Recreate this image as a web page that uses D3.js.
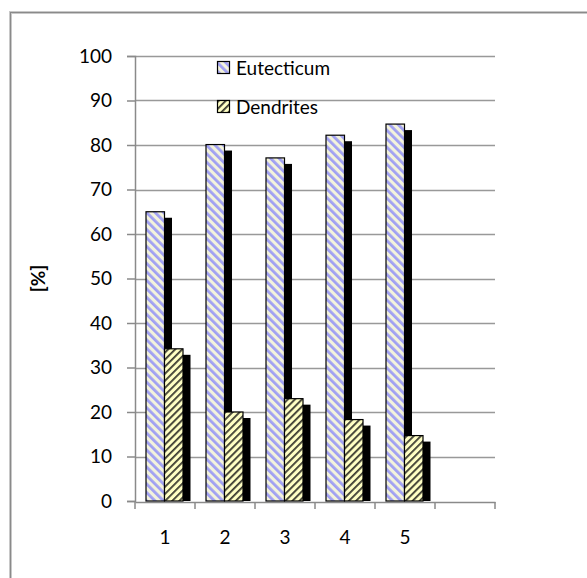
<!DOCTYPE html>
<html>
<head>
<meta charset="utf-8">
<script src="https://cdn.jsdelivr.net/npm/d3@7"></script>
<style>
  html, body { margin: 0; padding: 0; background: #fff; }
  svg text { font-family: Lato, "Liberation Sans", Arial, sans-serif; }
</style>
</head>
<body>
<svg id="chart" width="587" height="578"></svg>
<script>
// Category labels (the axis has one extra, empty slot on the right)
const categories = ["1", "2", "3", "4", "5"];
const slotCount = 6;
const seriesNames = ["Eutecticum", "Dendrites"];
const eutecticum = [65, 80.1, 77.1, 82.2, 84.7];
const dendrites = [34.2, 20, 23, 18.3, 14.7];
const yTicks = [0, 10, 20, 30, 40, 50, 60, 70, 80, 90, 100];

const svg = d3.select("#chart");
const fontFamily = "Lato, 'Liberation Sans', Arial, sans-serif";

// outer frame
svg.append("rect")
  .attr("x", 10.5).attr("y", 12.5)
  .attr("width", 600).attr("height", 600)
  .attr("fill", "none").attr("stroke", "#c8c8c8").attr("stroke-width", 3);
svg.append("rect")
  .attr("x", 10.5).attr("y", 12.5)
  .attr("width", 600).attr("height", 600)
  .attr("fill", "none").attr("stroke", "#8a8a8a").attr("stroke-width", 1);

// hatch fills
const defs = svg.append("defs");
const pe = defs.append("pattern").attr("id", "hatchEut")
  .attr("patternUnits", "userSpaceOnUse").attr("width", 6).attr("height", 6)
  .attr("patternTransform", "rotate(-45)");
pe.append("rect").attr("width", 6).attr("height", 6).attr("fill", "#f3f3dc");
pe.append("rect").attr("x", 0).attr("width", 2.8).attr("height", 6).attr("fill", "#a0a0f2");

const pd = defs.append("pattern").attr("id", "hatchDen")
  .attr("patternUnits", "userSpaceOnUse").attr("width", 5).attr("height", 5)
  .attr("patternTransform", "rotate(45)");
pd.append("rect").attr("width", 5).attr("height", 5).attr("fill", "#ffffc4");
pd.append("rect").attr("x", 0).attr("width", 1.8).attr("height", 5).attr("fill", "#3a3a30");

const fills = ["url(#hatchEut)", "url(#hatchDen)"];

const plotLeft = 135, plotRight = 495, plotTop = 56, plotBottom = 501;

const x = d3.scaleBand().domain(d3.range(slotCount)).range([plotLeft, plotRight]).padding(0);
const y = d3.scaleLinear().domain([0, 100]).range([plotBottom, plotTop]);

// gridlines
svg.append("g").selectAll("line")
  .data(yTicks.filter(t => t > 0))
  .join("line")
  .attr("x1", plotLeft).attr("x2", plotRight)
  .attr("y1", d => Math.round(y(d)) + 0.5).attr("y2", d => Math.round(y(d)) + 0.5)
  .attr("stroke", "#999").attr("stroke-width", 1.5);

// y axis
const yAxis = svg.append("g")
  .attr("transform", `translate(${plotLeft},0)`)
  .call(d3.axisLeft(y).tickValues(yTicks).tickSize(8).tickPadding(15));
yAxis.select(".domain").attr("stroke", "#8a8a8a").attr("stroke-width", 1.5);
yAxis.selectAll(".tick line").attr("stroke", "#8a8a8a").attr("stroke-width", 1.5);
yAxis.selectAll(".tick text").attr("font-size", 19).attr("fill", "#000")
  .attr("font-family", fontFamily);

// x axis
const xAxis = svg.append("g")
  .attr("transform", `translate(0,${plotBottom + 1})`)
  .call(d3.axisBottom(x).tickValues([]).tickSizeOuter(0));
xAxis.select(".domain").attr("stroke", "#8a8a8a").attr("stroke-width", 1.5);
svg.append("g").selectAll("line")
  .data(d3.range(slotCount + 1))
  .join("line")
  .attr("x1", d => plotLeft + d * x.bandwidth()).attr("x2", d => plotLeft + d * x.bandwidth())
  .attr("y1", plotBottom + 1).attr("y2", plotBottom + 8)
  .attr("stroke", "#8a8a8a").attr("stroke-width", 1.5);
svg.append("g").selectAll("text")
  .data(categories)
  .join("text")
  .attr("x", (d, i) => x(i) + x.bandwidth() / 2)
  .attr("y", plotBottom + 43)
  .attr("text-anchor", "middle")
  .attr("font-size", 19)
  .text(d => d);

// y axis title
svg.append("text")
  .attr("transform", `translate(45,${(plotTop + plotBottom) / 2}) rotate(-90)`)
  .attr("text-anchor", "middle")
  .attr("font-size", 19).attr("font-weight", "bold")
  .text("[%]");

// bars
const series = [eutecticum, dendrites];
const barW = 18.5, barOffset = 11, shX = 7.5, shY = 6;
const barsG = svg.append("g");
// shadows first
series.forEach((vals, s) => {
  barsG.append("g").selectAll("rect")
    .data(vals)
    .join("rect")
    .attr("x", (d, i) => x(i) + barOffset + s * barW + shX)
    .attr("y", d => y(d) + shY)
    .attr("width", barW)
    .attr("height", d => plotBottom - y(d) - shY)
    .attr("fill", "#000");
});
series.forEach((vals, s) => {
  barsG.append("g").selectAll("rect")
    .data(vals)
    .join("rect")
    .attr("x", (d, i) => x(i) + barOffset + s * barW)
    .attr("y", d => y(d))
    .attr("width", barW)
    .attr("height", d => plotBottom - y(d))
    .attr("fill", fills[s])
    .attr("stroke", "#000").attr("stroke-width", 1.2);
});

// legend
const legend = svg.append("g");
seriesNames.forEach((name, i) => {
  const ly = 68 + i * 39;
  legend.append("rect")
    .attr("x", 217.5).attr("y", ly - 6.5)
    .attr("width", 12).attr("height", 12)
    .attr("fill", fills[i]).attr("stroke", "#000").attr("stroke-width", 1.2);
  legend.append("text")
    .attr("x", 236).attr("y", ly + 7)
    .attr("font-size", 19)
    .text(name);
});
</script>
</body>
</html>
